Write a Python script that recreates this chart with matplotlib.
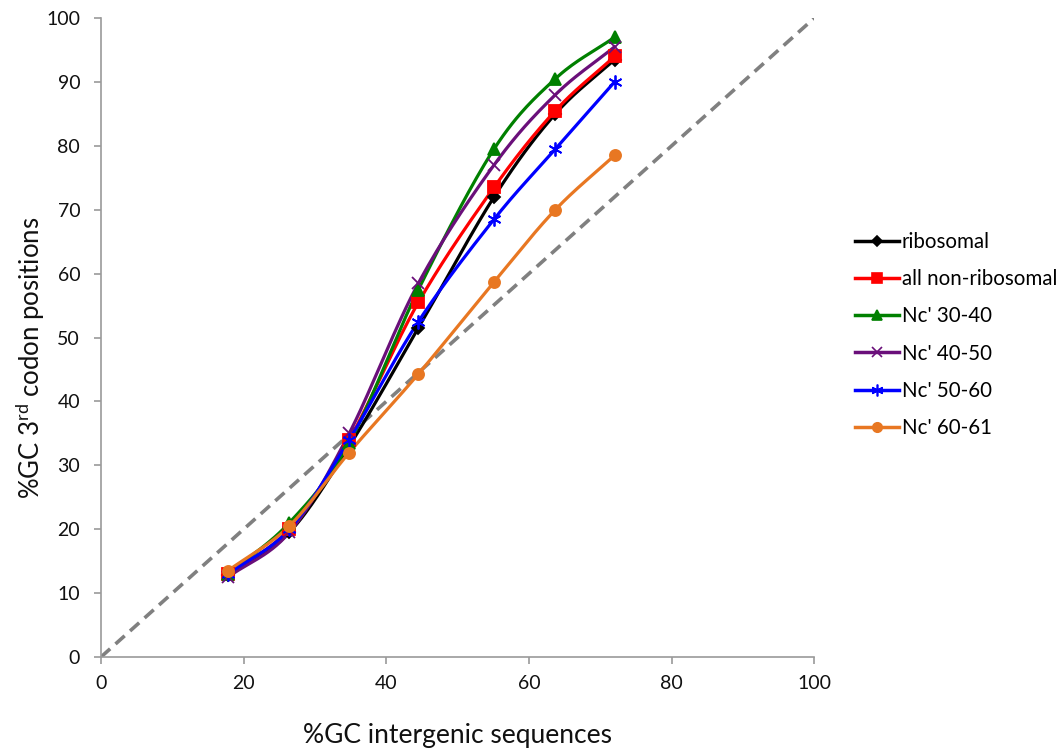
import numpy as np
import matplotlib.pyplot as plt

plt.rcParams['font.family'] = ['Lato', 'DejaVu Sans']
plt.rcParams['mathtext.fontset'] = 'custom'
plt.rcParams['mathtext.rm'] = 'Lato'

gc_inter = [17.8, 26.4, 34.8, 44.5, 55.1, 63.7, 72.0]

series_names = ["ribosomal", "all non-ribosomal", "Nc' 30-40", "Nc' 40-50", "Nc' 50-60", "Nc' 60-61"]
ribosomal = [12.8, 19.5, 33.0, 51.5, 72.0, 85.0, 93.5]
non_ribosomal = [13.0, 20.0, 34.0, 55.5, 73.5, 85.5, 94.0]
nc_30_40 = [13.0, 21.0, 33.5, 57.5, 79.5, 90.5, 97.0]
nc_40_50 = [12.5, 19.5, 35.0, 58.5, 77.0, 88.0, 95.5]
nc_50_60 = [13.0, 20.0, 34.0, 52.5, 68.5, 79.5, 90.0]
nc_60_61 = [13.5, 20.5, 32.0, 44.3, 58.7, 70.0, 78.5]

series_values = [ribosomal, non_ribosomal, nc_30_40, nc_40_50, nc_50_60, nc_60_61]
colors = ['black', '#ff0000', '#008000', '#6a0f7a', '#0000ff', '#e87722']
markers = ['D', 's', '^', 'x', (6, 2, 0), 'o']
msizes = [6, 9, 8, 9, 10, 8]


def smooth(xs, ys, n=30):
    # catmull-rom style smoothing, like excel "smoothed line"
    xs = np.asarray(xs, float)
    ys = np.asarray(ys, float)
    px = np.concatenate([[2 * xs[0] - xs[1]], xs, [2 * xs[-1] - xs[-2]]])
    py = np.concatenate([[2 * ys[0] - ys[1]], ys, [2 * ys[-1] - ys[-2]]])
    ox, oy = [], []
    t = np.linspace(0, 1, n)
    for i in range(1, len(px) - 2):
        for p, out in ((px, ox), (py, oy)):
            p0, p1, p2, p3 = p[i - 1], p[i], p[i + 1], p[i + 2]
            c = 0.5 * ((2 * p1) + (-p0 + p2) * t + (2 * p0 - 5 * p1 + 4 * p2 - p3) * t ** 2
                       + (-p0 + 3 * p1 - 3 * p2 + p3) * t ** 3)
            out.extend(c)
    return np.array(ox), np.array(oy)


fig = plt.figure(figsize=(10.63, 7.53), dpi=100)
ax = fig.add_axes([0.095, 0.1275, 0.671, 0.8485])

ax.plot([0, 100], [0, 100], linestyle=(0, (3.4, 2)), color='#808080', linewidth=2.6, zorder=1)

for name, vals, col, mk, ms in zip(series_names, series_values, colors, markers, msizes):
    sx, sy = smooth(gc_inter, vals)
    ax.plot(sx, sy, color=col, linewidth=2.3, zorder=2)
    ax.plot(gc_inter, vals, linestyle='none', marker=mk, color=col, markersize=ms,
            markeredgewidth=1.3, zorder=3)
    ax.plot([], [], color=col, linewidth=2.5, marker=mk, markersize=ms * 0.85,
            markeredgewidth=1.2, label=name)

ax.set_xlim(0, 100)
ax.set_ylim(0, 100)
ax.set_xticks(range(0, 101, 20))
ax.set_yticks(range(0, 101, 10))
for s in ['top', 'right']:
    ax.spines[s].set_visible(False)
for s in ['left', 'bottom']:
    ax.spines[s].set_color('#9a9a9a')
    ax.spines[s].set_linewidth(1.2)
ax.tick_params(direction='out', length=5, width=1.2, color='#9a9a9a', labelsize=14, labelcolor='#111111')
ax.tick_params(axis='x', pad=8)
ax.tick_params(axis='y', pad=10)

ax.set_xlabel('%GC intergenic sequences', fontsize=19, color='#111111')
ax.set_ylabel('%GC 3$^{\\mathrm{rd}}$ codon positions', fontsize=18.5, color='#111111')
ax.xaxis.set_label_coords(0.5, -0.103)
ax.yaxis.set_label_coords(-0.075, 0.468)

ax.legend(loc='center left', bbox_to_anchor=(1.0575, 0.504), frameon=False, fontsize=14.8,
          handlelength=2.15, handletextpad=0.1, labelspacing=0.84, borderaxespad=0, borderpad=0)

fig.savefig('out.png', dpi=100)
